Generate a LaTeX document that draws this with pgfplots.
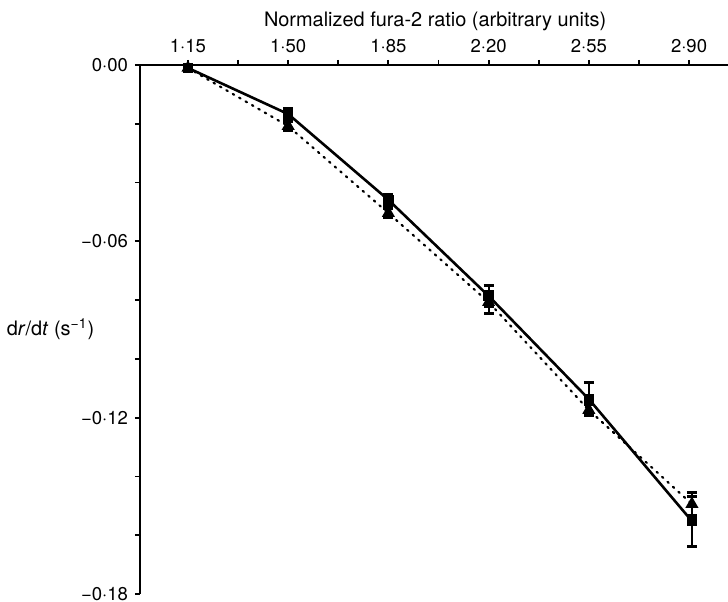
\documentclass[border=0pt]{standalone}
\usepackage{fontspec}
\setmainfont{TeX Gyre Heros}
\usepackage{pgfplots}
\pgfplotsset{compat=1.18}

% squares: solid line, triangles: dotted line
\pgfplotstableread{
x     y        e
1.15  -0.0010  0.0005
1.50  -0.0167  0.0020
1.85  -0.0459  0.0020
2.20  -0.0786  0.0037
2.55  -0.1137  0.0055
2.91  -0.1552  0.0085
}\squaredata
\pgfplotstableread{
x     y        e
1.15  -0.0010  0.0005
1.50  -0.0208  0.0015
1.85  -0.0504  0.0015
2.20  -0.0807  0.0037
2.55  -0.1174  0.0020
2.91  -0.1494  0.0040
}\triangledata

\begin{document}
\begin{tikzpicture}
\useasboundingbox (-70bp,-4bp) rectangle (294bp,297bp);
\begin{axis}[
    scale only axis,
    width=294bp, height=264.5bp,
    xmin=0.9825, xmax=3.036,
    ymin=-0.18, ymax=0,
    axis x line*=top,
    axis y line*=left,
    axis line style={line width=1bp},
    tick align=outside,
    xtick={1.15,1.50,1.85,2.20,2.55,2.90},
    xticklabels={1·15,1·50,1·85,2·20,2·55,2·90},
    minor x tick num=1,
    ytick={-0.18,-0.12,-0.06,0},
    yticklabels={−0·18,−0·12,−0·06,0·00},
    minor y tick num=2,
    major tick length=2.5bp,
    minor tick length=2.5bp,
    every tick/.style={black, line width=0.9bp},
    tick label style={font=\fontsize{9.3}{11}\selectfont},
    xlabel={Normalized fura-2 ratio (arbitrary units)},
    xlabel style={at={(axis description cs:0.502,1)}, anchor=center, yshift=22bp, font=\fontsize{10}{12}\selectfont},
    ylabel={d\textit{r}/d\textit{t} (s\textsuperscript{−1})},
    ylabel style={rotate=-90, at={(axis description cs:-0.066,0.5)}, anchor=east, font=\fontsize{10}{12}\selectfont},
    clip=false,
]
\addplot[black, line width=1.1bp, dash pattern=on 0.8bp off 2.9bp, line cap=round,
    mark=triangle*, mark size=2.7bp, mark options={solid},
    error bars/.cd, y dir=both, y explicit,
    error bar style={line width=1bp, solid},
    error mark options={rotate=90, line width=1.5bp, mark size=2.5bp, solid}]
    table[x=x, y=y, y error=e] {\triangledata};
\addplot[black, line width=1.3bp,
    mark=square*, mark size=2bp,
    error bars/.cd, y dir=both, y explicit,
    error bar style={line width=1bp},
    error mark options={rotate=90, line width=1.5bp, mark size=2.5bp}]
    table[x=x, y=y, y error=e] {\squaredata};
\end{axis}
\end{tikzpicture}
\end{document}
